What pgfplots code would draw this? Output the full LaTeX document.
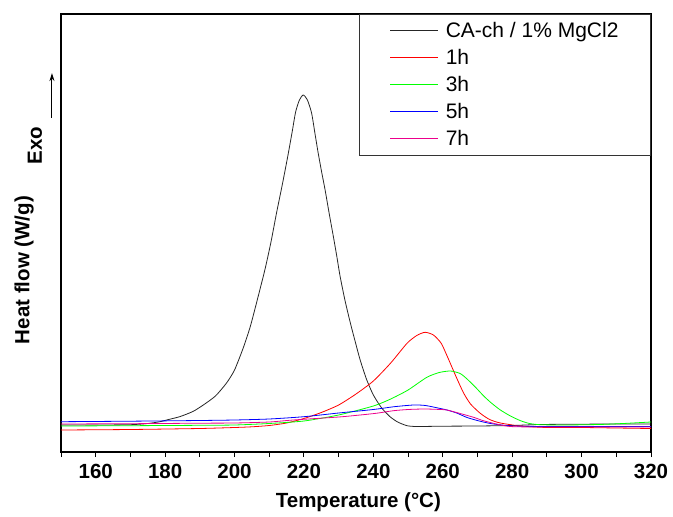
\documentclass[border=0pt]{standalone}
\usepackage{fontspec}
\setmainfont{Liberation Sans}
\usepackage{pgfplots}
\pgfplotsset{compat=1.18}
\usetikzlibrary{arrows.meta}
\pgfplotsset{limg/.style={legend image code/.code={\draw[draw=#1, line width=1pt] (0pt,0pt) -- (48pt,0pt);}}}
\begin{document}
\begin{tikzpicture}
\begin{axis}[
  scale only axis,
  width=590pt, height=438pt,
  xmin=150, xmax=320, ymin=0, ymax=438,
  clip=false,
  axis line style={line width=1.2pt},
  xtick={160,180,...,320},
  minor xtick={150,170,...,310},
  ytick=\empty,
  tick style={line width=1pt, black},
  major tick length=5pt, minor tick length=5pt,
  xtick pos=bottom, tick align=outside,
  xticklabel style={font=\fontsize{20.5}{24}\selectfont\bfseries, yshift=-4pt},
  /pgf/number format/assume math mode=true,
  /pgf/number format/1000 sep={},
  xlabel={Temperature (°C)},
  xlabel style={font=\fontsize{20.5}{24}\selectfont\bfseries, at={(axis description cs:0.504,-0.114)}, anchor=center},
  ylabel={Heat flow (W/g)},
  ylabel style={font=\fontsize{20.5}{24}\selectfont\bfseries, at={(axis description cs:-0.0627,0.4155)}, anchor=center},
  legend style={at={(1,1)}, anchor=north east, draw=black!80, line width=1pt,
    font=\fontsize{21}{24}\selectfont, inner xsep=30pt, inner ysep=6pt,
    row sep=6.3pt, column sep=5pt},
  legend cell align=left,
  every axis plot/.append style={line width=0.8pt},
]
\addplot[black!85, smooth, tension=0.4, limg=black!85] coordinates {
(150,27) (160,27) (170,27.3) (175,28.5) (178.5,30.3) (181,32.5) (184.2,35.3) (188,40.5) (191,47) (194.5,56) (197.7,69) (200,82) (202.5,104) (204.5,125) (206.4,150) (208.8,183) (210.5,210) (212.1,239) (213.8,268) (215.3,295) (216.6,320) (217.6,340) (218.7,352) (219.8,357) (221,352) (222.2,339) (223.2,318) (224.1,299) (225.1,280) (226.1,262) (227.3,238) (228.5,215) (229.5,195) (230.4,176) (231.8,152) (233.3,130) (234.8,110) (236.2,92) (238,73) (240,57) (242.4,44) (244.8,35.3) (247,30) (249.7,26.3) (252.5,25.5) (260,25.8) (270,26) (280,26.5) (288,27.5) (300,27.8) (310,28) (320,28)};
\addlegendentry{CA-ch / 1\% MgCl2}
\addplot[red, smooth, tension=0.4, limg=red] coordinates {
(150,22) (170,22.5) (190,23.5) (200,24.5) (205,25.2) (210,26.5) (215,29) (220,33.5) (225,39.5) (230,47) (235,58) (240,71) (245,89) (249.7,108.7) (252.5,116.5) (254.9,119.7) (257.3,117) (259.5,109) (261,98) (262.5,86) (264,74) (266,59) (268,48) (270.8,38.7) (273.5,32.5) (276.6,29) (282.4,26) (290,24.5) (300,24.5) (310,24) (320,23.5)};
\addlegendentry{1h}
\addplot[green, smooth, tension=0.4, limg=green] coordinates {
(150,26) (170,26.3) (190,26.7) (200,27) (210,28.5) (220,31) (230,37) (240,46) (245,53) (250,62) (255.4,74.7) (259,79.5) (262.2,81) (265,78.5) (267,73) (269.5,64.5) (271.8,56) (274,49) (276.6,42) (279.5,36) (282.4,31.3) (285,28.5) (288.1,27.3) (295,27) (305,27.5) (312,28.5) (320,30)};
\addlegendentry{3h}
\addplot[blue, smooth, tension=0.4, limg=blue] coordinates {
(150,30.3) (170,30.8) (190,31.5) (200,32) (210,33) (220,35.3) (230,39) (240,42.5) (246,45.3) (251.6,47) (255,46.5) (259.3,43.5) (261.2,42) (264,39) (267,34.5) (270.5,31) (273.7,28.5) (277,27) (280.4,26) (290,25.5) (320,25.5)};
\addlegendentry{5h}
\addplot[magenta, smooth, tension=0.4, limg=magenta] coordinates {
(150,28) (170,28.3) (190,28.8) (200,29) (210,30) (216.9,32) (230,35) (236.2,37) (241,38.8) (245.8,41.3) (250,42.5) (254.4,43) (258,42.7) (261.2,42) (265,38.5) (268.9,34.7) (271.5,31.5) (274.6,28.7) (277.5,26.5) (280.4,25.3) (290,25) (320,25)};
\addlegendentry{7h}
\node[rotate=90, font=\fontsize{20.5}{24}\selectfont\bfseries, anchor=center] at (axis description cs:-0.044,0.699) {Exo};
\draw[line width=1pt, -{Stealth[length=8pt,width=5pt]}] (axis description cs:-0.0153,0.7626) -- (axis description cs:-0.0153,0.865);
\coordinate (bl) at (rel axis cs:0,0);
\coordinate (tr) at (rel axis cs:1,1);
\end{axis}
\pgfresetboundingbox
\path[use as bounding box] ([xshift=-61pt,yshift=-64pt]bl) rectangle ([xshift=22pt,yshift=14pt]tr);
\end{tikzpicture}
\end{document}
